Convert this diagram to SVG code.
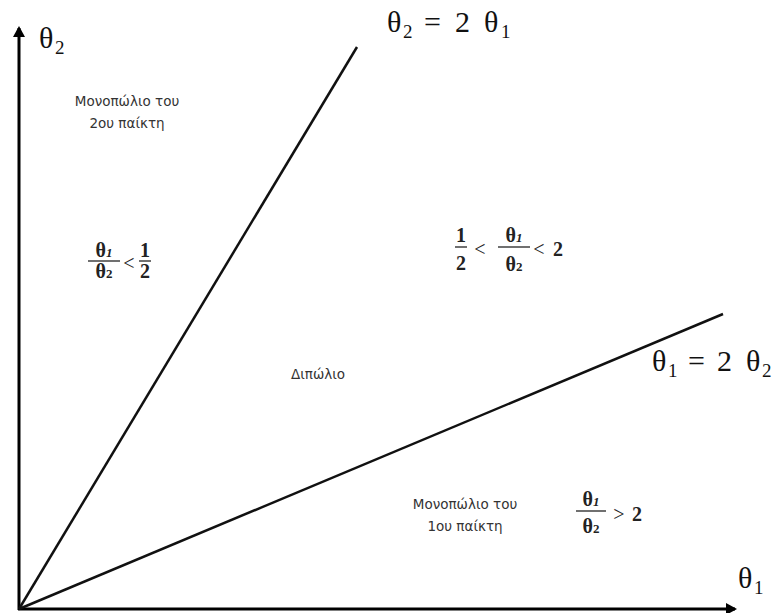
<svg xmlns="http://www.w3.org/2000/svg" width="782" height="613" viewBox="0 0 782 613">
<style>
.ax{stroke:#000;stroke-width:3;fill:none}
.ln{stroke:#111;stroke-width:2.5;fill:none}
.big{font-family:"Liberation Serif",serif;font-size:30px;fill:#111}
.sub{font-family:"Liberation Serif",serif;font-size:19px;fill:#111}
.g{font-family:"DejaVu Sans","Liberation Sans",sans-serif;font-size:13.5px;fill:#333;text-anchor:middle}
.m{font-family:"Liberation Serif",serif;font-size:20px;font-weight:bold;fill:#222;text-anchor:middle}
.op{font-family:"Liberation Serif",serif;font-size:20px;fill:#222;text-anchor:middle}
.fr{stroke:#222;stroke-width:1.3}
</style>
<defs>
<marker id="ah" markerWidth="12" markerHeight="12" refX="9" refY="6" orient="auto" markerUnits="userSpaceOnUse">
<path d="M0,0 L11,6 L0,12 Z" fill="#000"/>
</marker>
</defs>
<rect width="782" height="613" fill="#fff"/>
<g id="connectors">
<line class="ax" x1="19" y1="610" x2="19" y2="28" marker-end="url(#ah)"/>
<line class="ax" x1="18" y1="609" x2="735" y2="609" marker-end="url(#ah)"/>
<line class="ln" x1="19" y1="609" x2="357" y2="47"/>
<line class="ln" x1="19" y1="609" x2="723" y2="314"/>
</g>
<g id="label-theta2-axis">
<text class="big" x="39" y="48">θ</text><text class="sub" x="55" y="54">2</text>
</g>
<g id="label-line1">
<text class="big" x="387" y="32">θ</text><text class="sub" x="403" y="38">2</text>
<text class="big" x="424" y="32">=</text><text class="big" x="455" y="32">2</text>
<text class="big" x="484" y="32">θ</text><text class="sub" x="501" y="38">1</text>
</g>
<g id="label-line2">
<text class="big" x="652" y="371">θ</text><text class="sub" x="668" y="377">1</text>
<text class="big" x="688" y="371">=</text><text class="big" x="717" y="371">2</text>
<text class="big" x="746" y="371">θ</text><text class="sub" x="762" y="377">2</text>
</g>
<g id="label-theta1-axis">
<text class="big" x="738" y="588">θ</text><text class="sub" x="754" y="594">1</text>
</g>
<g id="region-mono2">
<text class="g" x="127" y="106">Μονοπώλιο του</text>
<text class="g" x="127" y="128">2ου παίκτη</text>
</g>
<g id="region-ineq1">
<text class="m" x="104" y="257">θ<tspan font-style="italic" font-size="13">1</tspan></text>
<line class="fr" x1="88" y1="261" x2="120" y2="261"/>
<text class="m" x="104" y="278">θ<tspan font-size="13">2</tspan></text>
<text class="op" x="129" y="270">&lt;</text>
<text class="m" x="145" y="257">1</text>
<line class="fr" x1="139" y1="261" x2="151" y2="261"/>
<text class="m" x="145" y="278">2</text>
</g>
<g id="region-ineq2">
<text class="m" x="461" y="242">1</text>
<line class="fr" x1="455" y1="247" x2="467" y2="247"/>
<text class="m" x="461" y="270">2</text>
<text class="op" x="480" y="256">&lt;</text>
<text class="m" x="514" y="242">θ<tspan font-style="italic" font-size="13">1</tspan></text>
<line class="fr" x1="498" y1="247" x2="530" y2="247"/>
<text class="m" x="514" y="271">θ<tspan font-size="13">2</tspan></text>
<text class="op" x="539" y="256">&lt;</text>
<text class="m" x="558" y="256">2</text>
</g>
<g id="region-duo"><text class="g" x="318" y="379">Διπώλιο</text></g>
<g id="region-mono1">
<text class="g" x="465" y="509">Μονοπώλιο του</text>
<text class="g" x="465" y="531">1ου παίκτη</text>
</g>
<g id="region-ineq3">
<text class="m" x="591" y="506">θ<tspan font-style="italic" font-size="13">1</tspan></text>
<line class="fr" x1="576" y1="511" x2="606" y2="511"/>
<text class="m" x="591" y="533">θ<tspan font-size="13">2</tspan></text>
<text class="op" x="619" y="521">&gt;</text>
<text class="m" x="637" y="521">2</text>
</g>
</svg>
